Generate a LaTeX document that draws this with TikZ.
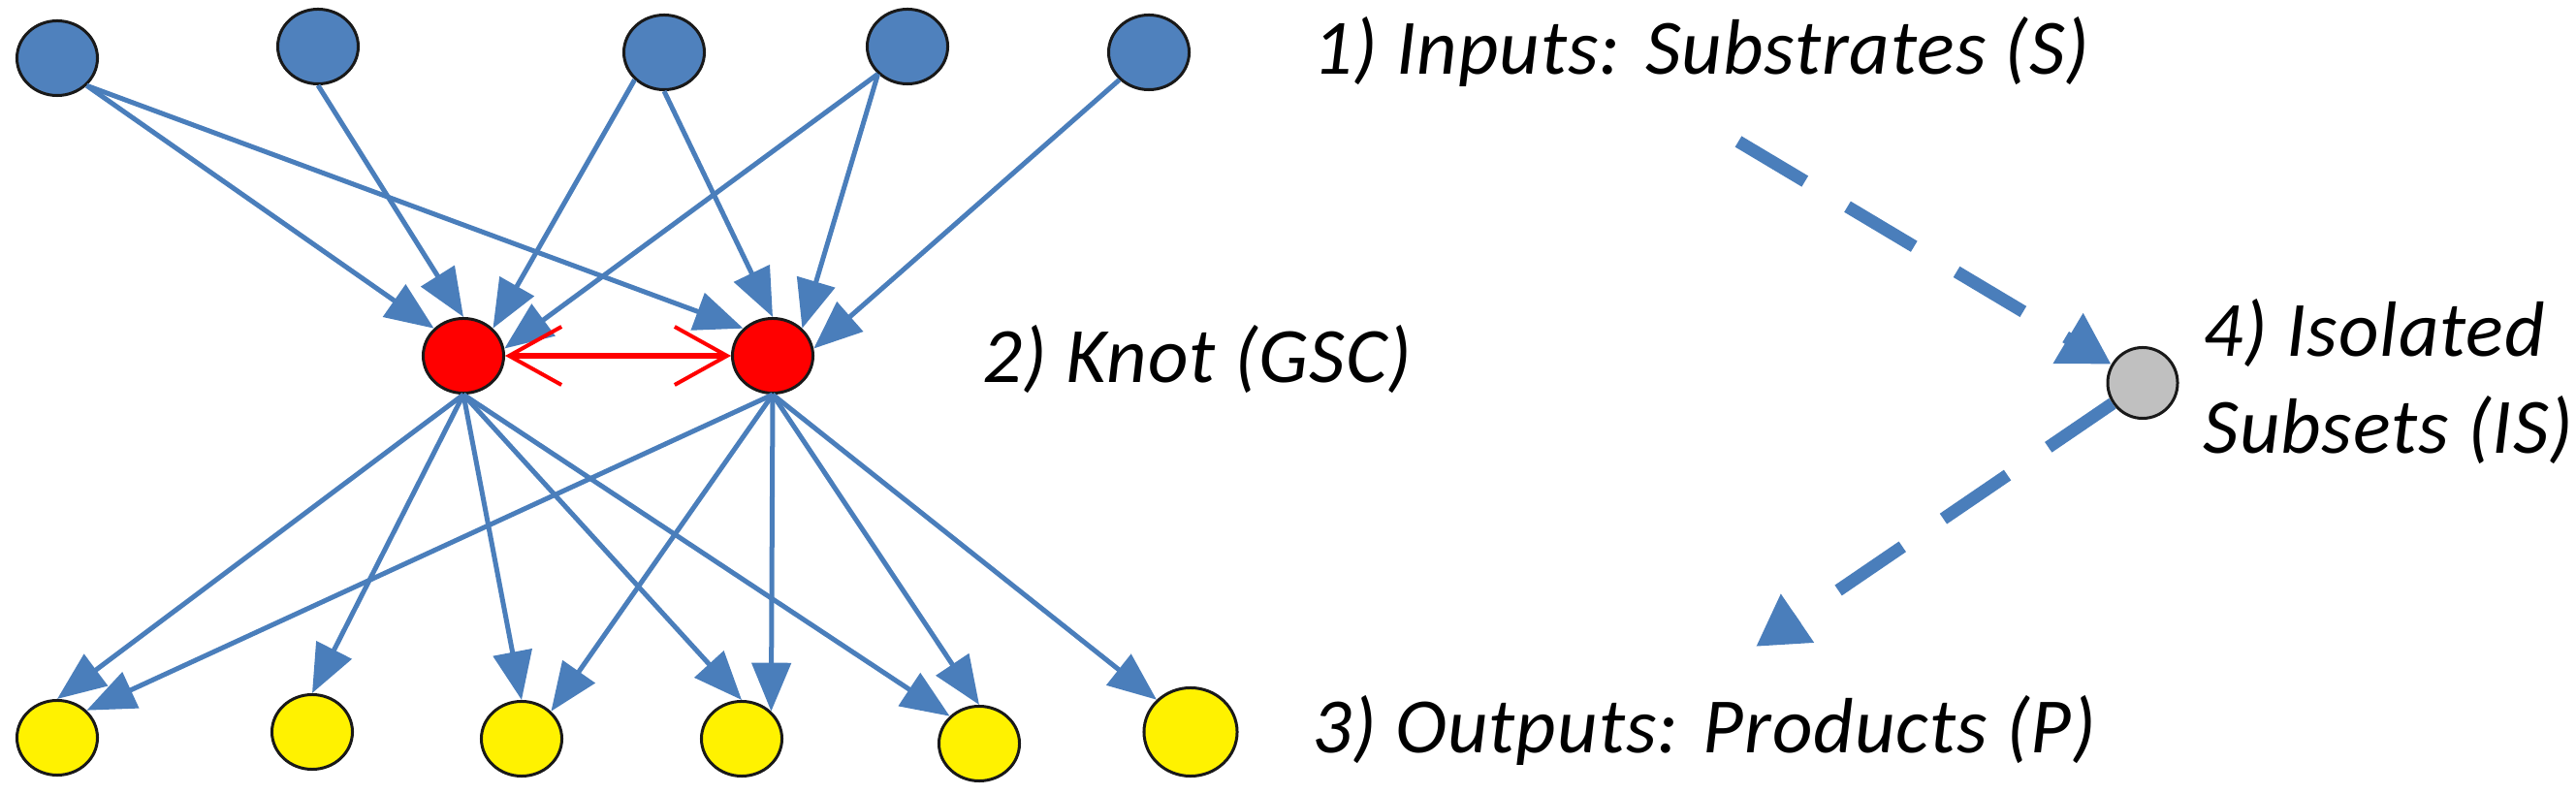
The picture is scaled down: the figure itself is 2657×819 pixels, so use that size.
\documentclass[tikz,border=0pt]{standalone}
\usepackage{fontspec}
\setmainfont{Carlito}[LetterSpace=1.2]
\usetikzlibrary{shapes.geometric,arrows.meta}
\definecolor{nodeblue}{HTML}{4F81BD}
\definecolor{lineblue}{HTML}{4A7EBB}
\definecolor{isogrey}{HTML}{C0C0C0}
\begin{document}
\begin{tikzpicture}[x=0.01cm,y=-0.01cm,
  nd/.style={ellipse, draw=black!90, line width=0.03cm, minimum width=0.83cm, minimum height=0.77cm, inner sep=0pt},
  sub/.style={nd, fill=nodeblue},
  knot/.style={nd, fill=red},
  prod/.style={nd, fill=yellow},
  iso/.style={nd, fill=isogrey, minimum width=0.72cm, minimum height=0.73cm},
  edge/.style={draw=lineblue, line width=0.05cm, -{Triangle[length=0.5cm,width=0.4cm]}},
  redge/.style={draw=red, line width=0.06cm, {Straight Barb[length=0.54cm,width=0.6cm,line width=0.04cm]}-{Straight Barb[length=0.54cm,width=0.6cm,line width=0.04cm]}},
  dedge/.style={draw=lineblue, line width=0.13cm, dash pattern=on 0.8cm off 0.51cm, -{Triangle[length=0.52cm,width=0.57cm]}},
  lbl/.style={anchor=base west, inner sep=0pt, font=\fontsize{23}{27}\selectfont\itshape}
]
\useasboundingbox[fill=white] (0,0) rectangle (2657,819);
% substrates
\node[sub] (S1) at (59,60) {};
\node[sub] (S2) at (328,48) {};
\node[sub] (S3) at (685,54) {};
\node[sub] (S4) at (936,48) {};
\node[sub] (S5) at (1185,54) {};
% knot
\node[knot] (K1) at (478,367) {};
\node[knot] (K2) at (797,367) {};
% products
\node[prod] (P1) at (59,761) {};
\node[prod] (P2) at (322,755) {};
\node[prod] (P3) at (538,762) {};
\node[prod] (P4) at (765,762) {};
\node[prod] (P5) at (1010,767) {};
\node[prod, minimum width=0.96cm, minimum height=0.91cm] (P6) at (1228,755) {};
% isolated
\node[iso] (IS) at (2210,395) {};
\coordinate (D1) at (1793,146);
\coordinate (D2) at (1811,667);
% edges in
\draw[edge] (S1.south east) -- (K1.north west);
\draw[edge] (S1.south east) -- (K2.north west);
\draw[edge] (S2.south) -- (K1.north);
\draw[edge] (S3.south west) -- (K1.north east);
\draw[edge] (S3.south) -- (K2.north);
\draw[edge] (S4.south west) -- (K1.10);
\draw[edge] (S4.south west) -- (K2.north east);
\draw[edge] (S5.south west) -- (K2.10);
% edges out
\draw[edge] (K1.south) -- (P1.north);
\draw[edge] (K1.south) -- (P2.north);
\draw[edge] (K1.south) -- (P3.north);
\draw[edge] (K1.south) -- (P4.north);
\draw[edge] (K1.south) -- (P5.north west);
\draw[edge] (K2.south) -- (P1.north east);
\draw[edge] (K2.south) -- (P3.north east);
\draw[edge] (K2.south) -- (P4.north east);
\draw[edge] (K2.south) -- (P5.north);
\draw[edge] (K2.south) -- (P6.north west);
% knot link
\draw[redge] (K1.east) -- (K2.west);
% dashed
\draw[dedge] (D1) -- (IS);
\draw[dedge] (IS) -- (D2);
% labels
\node[lbl] (L1) at (1354,77) {1) Inputs: Substrates (S)};
\node[lbl] (L2) at (1013,395) {2) Knot (GSC)};
\node[lbl] (L3) at (1353,777) {3) Outputs: Products (P)};
\node[lbl] (L4a) at (2272,368) {4) Isolated};
\node[lbl] (L4b) at (2272,468) {Subsets (IS)};
\end{tikzpicture}
\end{document}
